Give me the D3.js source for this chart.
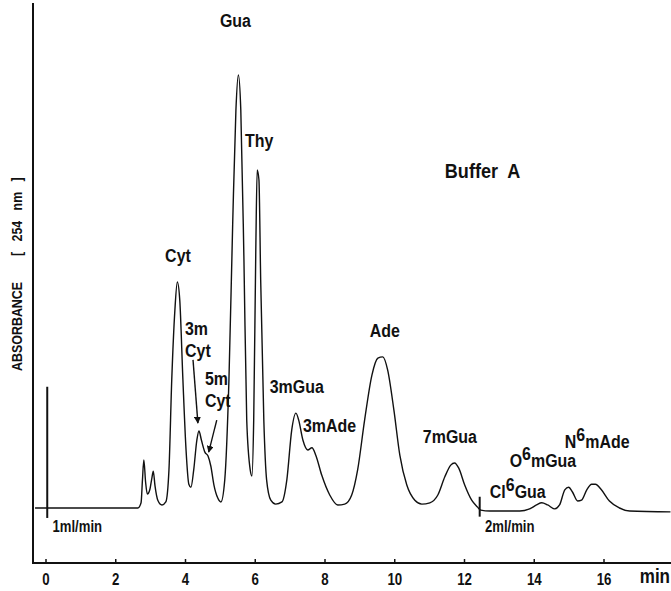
<!DOCTYPE html>
<html>
<head>
<meta charset="utf-8">
<script src="https://cdn.jsdelivr.net/npm/d3@7/dist/d3.min.js"></script>
<style>
body { margin: 0; background: #fff; }
text { font-family: "Liberation Sans", Arial, sans-serif; font-weight: bold; fill: #111; }
</style>
</head>
<body>
<div id="content"></div>
<script>
// chromatogram trace (time in min, absorbance in arbitrary units, Gua = 100)
var traceTime = [-0.30, 2.65, 2.74, 2.78, 2.82, 2.87, 2.92, 2.99, 3.05, 3.09, 3.14, 3.22, 3.34, 3.45, 3.54,
    3.62, 3.71, 3.78, 3.85, 3.94, 4.03, 4.11, 4.17, 4.25, 4.34, 4.40, 4.47, 4.57, 4.66, 4.74, 4.83, 4.94,
    5.03, 5.14, 5.26, 5.37, 5.46, 5.53, 5.60, 5.69, 5.77, 5.87, 5.92, 5.97, 6.03, 6.07, 6.12, 6.17, 6.26,
    6.34, 6.46, 6.60, 6.78, 6.92, 7.06, 7.18, 7.26, 7.38, 7.52, 7.64, 7.75, 7.92, 8.15, 8.38, 8.58, 8.78,
    8.95, 9.15, 9.36, 9.53, 9.67, 9.81, 9.99, 10.16, 10.36, 10.59, 10.79, 11.02, 11.25, 11.45, 11.62, 11.73,
    11.85, 12.02, 12.22, 12.39, 12.48, 12.74, 13.60, 13.88, 14.08, 14.23, 14.40, 14.60, 14.74, 14.89, 15.00,
    15.11, 15.26, 15.37, 15.52, 15.66, 15.77, 15.94, 16.17, 16.46, 16.75, 17.92];
var traceAbs = [0, 0, 1.2, 6.5, 11.1, 6.0, 3.2, 4.2, 6.9, 8.5, 5.1, 1.8, 0.7, 1.4, 8.8,
    29.6, 45.7, 52.2, 48.0, 29.6, 13.4, 5.5, 4.8, 8.8, 15.7, 17.8, 15.7, 12.9, 12.0, 9.7, 5.3, 2.3,
    1.4, 6.5, 29.6, 66.5, 91.9, 100, 91.9, 57.3, 20.3, 8.8, 7.4, 20.3, 59.6, 78.1, 75.8, 52.7, 20.3,
    6.5, 1.8, 0.9, 1.4, 6.5, 18.0, 21.9, 20.3, 15.7, 13.4, 13.9, 12.2, 7.6, 3.0, 0.7, 0.9, 3.0,
    8.8, 20.3, 30.7, 34.6, 34.9, 31.9, 22.6, 12.2, 5.3, 1.8, 0.9, 1.2, 3.0, 7.2, 9.9, 10.4,
    9.2, 5.3, 1.8, 0.2, -0.5, -0.7, -0.7, -0.2, 0.7, 1.2, 0.7, -0.2, 0.7, 4.2, 4.8,
    3.7, 1.6, 1.8, 4.2, 5.5, 5.5, 4.2, 1.6, 0, -0.7, -0.9];

var xTicks = [0, 2, 4, 6, 8, 10, 12, 14, 16];

// injection spike and flow change mark
var injectTime = 0.05, injectAbs = [28, -2.3];
var flowTime = 12.45, flowAbs = [2.6, -2.0];
var flowLabels = ["1ml/min", "2ml/min"];
var flowLabelTime = [0.2, 12.6];

// peak labels ("|" = new line, "^" = superscript digit)
var labelText = ["Cyt", "3m|Cyt", "5m|Cyt", "Gua", "Thy", "3mGua", "3mAde", "Ade", "7mGua", "Cl^6Gua", "O^6mGua", "N^6mAde"];
var labelTime = [3.43, 4.00, 4.57, 5.00, 5.72, 6.43, 7.38, 9.30, 10.82, 12.74, 13.31, 14.89];
var labelAbs = [56.8, 40.0, 28.4, 111.1, 83.4, 26.6, 17.6, 39.5, 15.0, 2.3, 9.5, 13.9];

// arrows for 3mCyt and 5mCyt
var arrowFrom = [[4.23, 34.2], [4.91, 20.3]];
var arrowTo = [[4.37, 19.6], [4.68, 12.9]];

// condensed look: squeeze glyphs horizontally
function put_text(g, x, y, str, size, sx){
    return g.append('text')
        .attr('transform', 'translate(' + x + ',' + y + ') scale(' + sx + ',1)')
        .style('font-size', size + 'px')
        .style('white-space', 'pre')
        .text(str);
}

function draw_chart(svg){
    var W = 671, H = 591;
    var left = 33, top = 3, bottom = 563;

    var x = d3.scaleLinear().domain([0, 16]).range([45.5, 603.5]);
    var y = d3.scaleLinear().domain([0, 100]).range([508, 75]);

    // frame
    svg.append('line')
        .attr('x1', left).attr('x2', left)
        .attr('y1', top).attr('y2', bottom)
        .attr('stroke', '#111').attr('stroke-width', 2);
    svg.append('line')
        .attr('x1', left - 1).attr('x2', W)
        .attr('y1', bottom).attr('y2', bottom)
        .attr('stroke', '#111').attr('stroke-width', 2);

    var xAxis = d3.axisBottom(x)
        .tickValues(xTicks)
        .tickSize(-4)
        .tickSizeOuter(0)
        .tickFormat('');
    var gx = svg.append('g')
        .attr('transform', 'translate(0,' + bottom + ')')
        .call(xAxis);
    gx.select('.domain').remove();
    gx.selectAll('line').attr('stroke', '#111').attr('stroke-width', 1.5);
    gx.selectAll('.tick').each(function(d){
        put_text(d3.select(this), 0, 22, String(d), 17, 0.78)
            .attr('text-anchor', 'middle');
    });

    put_text(svg, 670, 583, 'min', 20, 0.85).attr('text-anchor', 'end');

    // y axis title
    var yt = svg.append('g').attr('transform', 'translate(22,0)');
    put_text(yt, 0, 371, 'ABSORBANCE', 15, 0.83)
        .attr('transform', 'translate(0,371) rotate(-90) scale(0.83,1)');
    put_text(yt, 0, 256, '[   254   nm   ]', 15, 0.83)
        .attr('transform', 'translate(0,256) rotate(-90) scale(0.83,1)');

    // trace
    var pts = traceTime.map(function(t, i){ return [t, traceAbs[i]]; });
    var line = d3.line()
        .x(function(d){ return Math.max(x(d[0]), left); })
        .y(function(d){ return y(d[1]); })
        .curve(d3.curveMonotoneX);
    svg.append('path')
        .datum(pts)
        .attr('d', line)
        .attr('fill', 'none')
        .attr('stroke', '#111')
        .attr('stroke-width', 1.4)
        .attr('stroke-linejoin', 'round');

    // injection spike and flow marker
    svg.append('line')
        .attr('x1', x(injectTime)).attr('x2', x(injectTime))
        .attr('y1', y(injectAbs[0])).attr('y2', y(injectAbs[1]))
        .attr('stroke', '#111').attr('stroke-width', 2);
    svg.append('line')
        .attr('x1', x(flowTime)).attr('x2', x(flowTime))
        .attr('y1', y(flowAbs[0])).attr('y2', y(flowAbs[1]))
        .attr('stroke', '#111').attr('stroke-width', 2);

    flowLabels.forEach(function(s, i){
        put_text(svg, x(flowLabelTime[i]), 532, s, 16, 0.82);
    });

    // peak labels
    labelText.forEach(function(s, i){
        var lines = s.split('|');
        lines.forEach(function(ln, j){
            var t = put_text(svg, x(labelTime[i]), y(labelAbs[i]) + j * 22, '', 19, 0.84);
            var parts = ln.split('^');
            t.append('tspan').text(parts[0]);
            if(parts.length > 1){
                t.append('tspan').attr('dy', -7).text(parts[1].charAt(0));
                t.append('tspan').attr('dy', 7).text(parts[1].slice(1));
            }
        });
    });

    put_text(svg, x(11.45), y(76.2), 'Buffer  A', 21, 0.86);

    // arrows
    svg.append('defs').append('marker')
        .attr('id', 'head')
        .attr('viewBox', '0 0 10 10')
        .attr('refX', 9).attr('refY', 5)
        .attr('markerWidth', 5).attr('markerHeight', 5)
        .attr('orient', 'auto')
        .append('path')
        .attr('d', 'M0,0 L10,5 L0,10 z')
        .attr('fill', '#111');
    svg.selectAll('line.arrow')
        .data(arrowFrom)
        .enter()
        .append('line')
        .attr('class', 'arrow')
        .attr('x1', function(d){ return x(d[0]); })
        .attr('y1', function(d){ return y(d[1]); })
        .attr('x2', function(d, i){ return x(arrowTo[i][0]); })
        .attr('y2', function(d, i){ return y(arrowTo[i][1]); })
        .attr('stroke', '#111')
        .attr('stroke-width', 1.4)
        .attr('marker-end', 'url(#head)');
}

var svg = d3.select('#content')
    .append('svg')
    .attr('width', 671)
    .attr('height', 591);
draw_chart(svg);
</script>
</body>
</html>
